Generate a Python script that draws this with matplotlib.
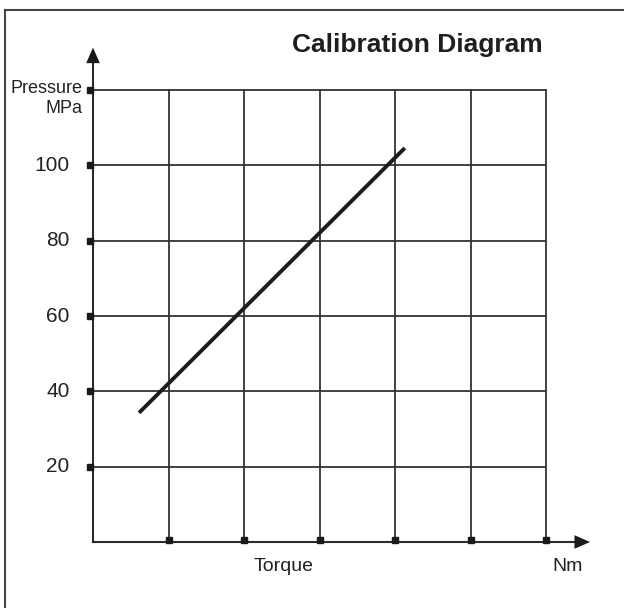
#!/usr/bin/env python3
"""Calibration diagram: pressure vs torque."""
import matplotlib
matplotlib.use('Agg')
import matplotlib.pyplot as plt
from matplotlib.lines import Line2D

plt.rcParams.update({
    'font.family': ['Liberation Sans', 'DejaVu Sans'],
    'font.size': 14,
})

# data
y_ticks = [20, 40, 60, 80, 100]
y_ticklabels = ['20', '40', '60', '80', '100']
x_grid = [1, 2, 3, 4, 5, 6]
y_grid = [20, 40, 60, 80, 100, 120]
torque = [0.61, 4.13]
pressure = [34.3, 104.6]

C_AX = '#2b2b2b'
C_GRID = '#333333'

W, H = 624, 608
fig = plt.figure(figsize=(W / 100, H / 100), dpi=100)
ax = fig.add_axes([93 / W, 1 - 542 / H, 453 / W, 452 / H])
ax.set_xlim(0, 6)
ax.set_ylim(0, 120)
for s in ax.spines.values():
    s.set_visible(False)
ax.set_xticks([])
ax.set_yticks([])
ax.patch.set_alpha(0)

# grid
for xv in x_grid:
    ax.plot([xv, xv], [0, 120], color=C_GRID, lw=1.3, zorder=1, clip_on=False)
for yv in y_grid:
    ax.plot([0, 6], [yv, yv], color=C_GRID, lw=1.3, zorder=1, clip_on=False)

# axes with arrows
ax.plot([0, 6.5], [0, 0], color=C_AX, lw=1.5, clip_on=False, zorder=3)
ax.plot([0, 0], [0, 129], color=C_AX, lw=1.5, clip_on=False, zorder=3)
ax.annotate('', xy=(6.62, 0), xytext=(6.45, 0), xycoords='data',
            arrowprops=dict(arrowstyle='-|>,head_length=0.8,head_width=0.35',
                            color='#1a1a1a', lw=0), annotation_clip=False)
ax.annotate('', xy=(0, 132), xytext=(0, 128), xycoords='data',
            arrowprops=dict(arrowstyle='-|>,head_length=0.8,head_width=0.35',
                            color='#1a1a1a', lw=0), annotation_clip=False)

# small square tick markers
ax.plot(x_grid, [0.6] * len(x_grid), 's', color='#1a1a1a', ms=4.2,
        clip_on=False, zorder=4)
ax.plot([-0.04] * len(y_grid), y_grid, 's', color='#1a1a1a', ms=4.2,
        clip_on=False, zorder=4)

# tick labels
for yv, lab in zip(y_ticks, y_ticklabels):
    ax.text(-0.31, yv, lab, ha='right', va='center', fontsize=15, color='#222222')
ax.text(-0.14, 120.4, 'Pressure', ha='right', va='center', fontsize=13, color='#222222')
ax.text(-0.14, 115.0, 'MPa', ha='right', va='center', fontsize=13, color='#222222')
ax.text(2.52, -6.6, 'Torque', ha='center', va='center', fontsize=14, color='#222222')
ax.text(6.29, -6.6, 'Nm', ha='center', va='center', fontsize=14, color='#222222')

# calibration line
ax.plot(torque, pressure, color='#1c1c1c', lw=2.8, solid_capstyle='butt', zorder=5)

fig.text(417 / W, 1 - 45 / H, 'Calibration Diagram', ha='center', va='center',
         fontsize=19, fontweight='bold', color='#1e1e1e')

# frame (left and top edges only visible)
fig.add_artist(Line2D([5 / W, 5 / W], [0, 1 - 10 / H], color='#444444', lw=1.5,
                      transform=fig.transFigure))
fig.add_artist(Line2D([5 / W, 1], [1 - 10 / H, 1 - 10 / H], color='#444444', lw=1.5,
                      transform=fig.transFigure))

fig.savefig('out.png', dpi=100)
